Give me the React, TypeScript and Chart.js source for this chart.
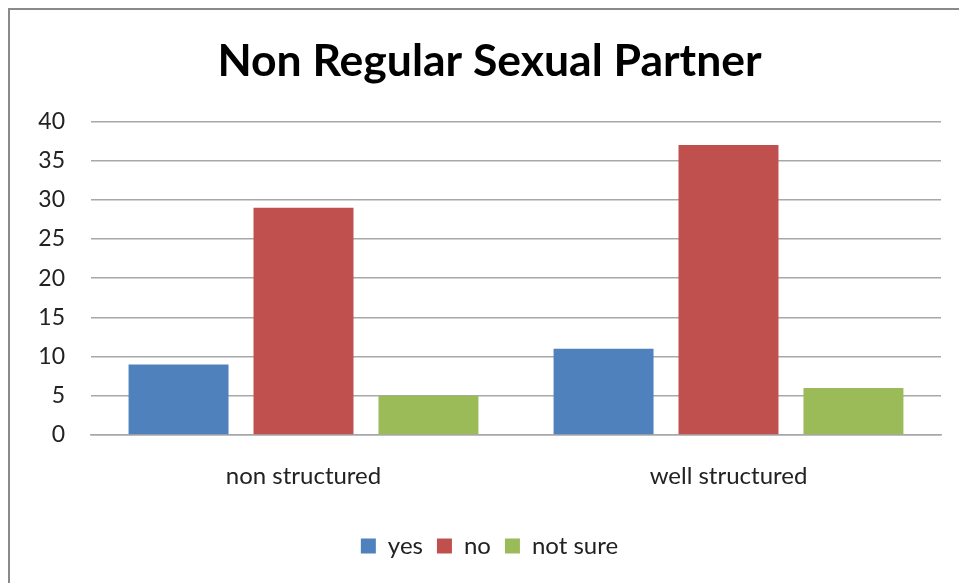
import React, { useEffect, useRef } from "react";
import { Chart, registerables } from "chart.js";

Chart.register(...registerables);

const categories = ["non structured", "well structured"];
const yesValues = [9, 11];
const noValues = [29, 37];
const notSureValues = [5, 6];
const seriesNames = ["yes", "no", "not sure"];
const titleText = "Non Regular Sexual Partner";

const FONT = "Lato, 'Open Sans', sans-serif";

export default function App() {
  const ref = useRef<HTMLCanvasElement | null>(null);
  useEffect(() => {
    if (!ref.current) return;
    const chart = new Chart(ref.current, {
      type: "bar",
      data: {
        labels: categories,
        datasets: [
          { label: seriesNames[0], data: yesValues, backgroundColor: "#4F81BD", yAxisID: "y" },
          { label: seriesNames[1], data: noValues, backgroundColor: "#C0504D", yAxisID: "y" },
          { label: seriesNames[2], data: notSureValues, backgroundColor: "#9BBB59", yAxisID: "y" },
        ],
      },
      options: {
        animation: false,
        responsive: false,
        maintainAspectRatio: false,
        datasets: { bar: { categoryPercentage: 0.882, barPercentage: 0.8 } },
        layout: { padding: { left: 25, right: 5, top: 0, bottom: 15 } },
        plugins: {
          title: {
            display: true,
            text: titleText,
            color: "#000",
            font: { family: FONT, size: 44.5, weight: "bold" },
            padding: { top: 35, bottom: 33 },
          },
          legend: {
            position: "bottom",
            labels: {
              color: "#222",
              font: { family: FONT, size: 24 },
              boxWidth: 15,
              boxHeight: 15,
              padding: 14,
            },
          },
          tooltip: { enabled: false },
        },
        scales: {
          x: {
            grid: { display: false, drawTicks: false },
            border: { display: true, color: "#a8a8a8", width: 1.5 },
            ticks: { color: "#222", font: { family: FONT, size: 24 }, padding: 27 },
            afterFit: (s: any) => {
              s.height = 85;
            },
          },
          y: {
            position: "left",
            min: 0,
            max: 40,
            ticks: { stepSize: 5, color: "#222", font: { family: FONT, size: 23 }, padding: 26 },
            grid: { color: "#a8a8a8", lineWidth: 1.5, drawTicks: false },
            border: { display: false },
            afterFit: (s: any) => {
              s.width = 66;
            },
          },
          y2: {
            position: "right",
            min: 0,
            max: 40,
            ticks: { display: false },
            grid: { display: false, drawTicks: false },
            border: { display: false },
            afterFit: (s: any) => {
              s.width = 13;
            },
          },
        },
      },
    });
    return () => chart.destroy();
  }, []);

  return (
    <div style={{ position: "fixed", left: 0, top: 0, width: 959, height: 583, background: "#fff", overflow: "hidden" }}>
      <canvas ref={ref} width={959} height={583} style={{ position: "absolute", left: 0, top: 0 }} />
      <div
        style={{
          position: "absolute",
          left: 8,
          top: 8,
          width: 1200,
          height: 1200,
          border: "2px solid #8a8a8a",
          pointerEvents: "none",
        }}
      />
    </div>
  );
}
